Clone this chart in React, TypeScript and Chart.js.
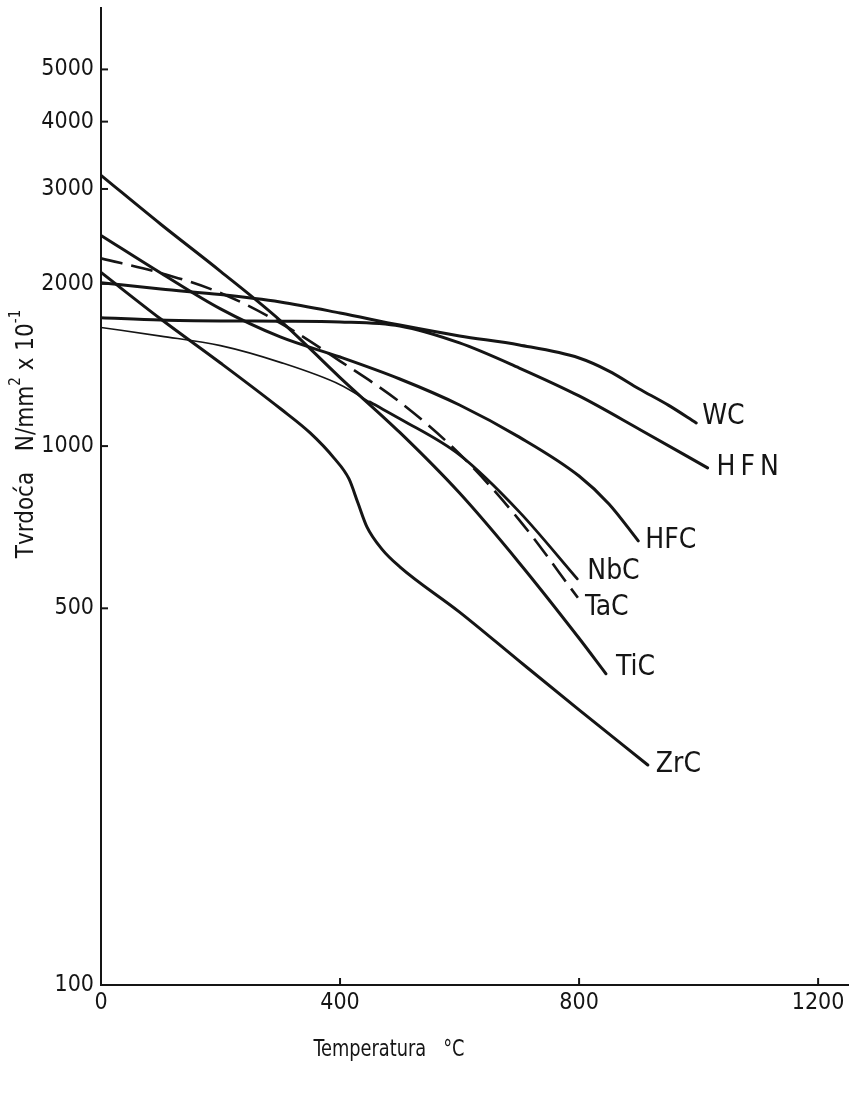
import React, { useEffect, useRef } from 'react';
import { Chart, registerables } from 'chart.js';

Chart.register(...registerables);

// ---- data (temperature °C, hardness N/mm² x 10^-1) ----
const wcTemps = [0, 100, 200, 300, 400, 500, 600, 700, 800, 850, 900, 950, 996];
const wcHard = [2010, 1956, 1911, 1851, 1766, 1677, 1601, 1540, 1457, 1378, 1278, 1190, 1104];

const hfnTemps = [0, 100, 200, 300, 400, 500, 600, 700, 800, 900, 1015];
const hfnHard = [1730, 1714, 1707, 1705, 1700, 1671, 1554, 1396, 1239, 1076, 911];

const hfcTemps = [0, 100, 200, 300, 400, 500, 600, 700, 800, 850, 899];
const hfcHard = [2460, 2095, 1797, 1594, 1463, 1332, 1192, 1039, 880, 781, 667];

const nbcTemps = [0, 100, 200, 300, 400, 450, 500, 600, 700, 797];
const nbcHard = [1660, 1600, 1536, 1430, 1300, 1207, 1124, 963, 755, 567];

const tacTemps = [0, 100, 200, 300, 400, 500, 600, 700, 798];
const tacHard = [2230, 2095, 1924, 1692, 1438, 1207, 967, 729, 523];

const ticTemps = [0, 100, 200, 300, 400, 500, 600, 700, 800, 845];
const ticHard = [3180, 2580, 2110, 1710, 1340, 1060, 818, 607, 440, 378];

const zrcTemps = [0, 100, 200, 300, 350, 390, 415, 430, 445, 470, 500, 600, 700, 800, 915];
const zrcHard = [2100, 1721, 1426, 1174, 1058, 950, 869, 784, 708, 644, 597, 492, 399, 324, 256];

const seriesNames = ['WC', 'HFN', 'HFC', 'NbC', 'TaC', 'TiC', 'ZrC'];
const yTickValues = [100, 500, 1000, 2000, 3000, 4000, 5000];
const xTickValues = [0, 400, 800, 1200];
const xTitle = 'Temperatura   °C';
const yTitleParts = [
  { t: 'Tvrdoća   N/mm', sup: false },
  { t: '2', sup: true },
  { t: ' x 10', sup: false },
  { t: '-1', sup: true },
];

const FONT = "'Liberation Sans Narrow', 'DejaVu Sans Condensed', 'Roboto Condensed', 'Liberation Sans', sans-serif";
const INK = '#151515';

const labelOffsets: Record<string, [number, number]> = {
  WC: [6, -6],
  HFN: [9, 0],
  HFC: [7, 0],
  NbC: [10, -7],
  TaC: [7, 10],
  TiC: [10, -6],
  ZrC: [8, 0],
};

function pts(t: number[], v: number[]) {
  return t.map((x, i) => ({ x, y: v[i] }));
}

function drawRich(ctx: CanvasRenderingContext2D, parts: { t: string; sup: boolean }[], cx: number, cy: number, size: number) {
  const supSize = Math.round(size * 0.62);
  let total = 0;
  const widths = parts.map((p) => {
    ctx.font = `${p.sup ? supSize : size}px ${FONT}`;
    const w = ctx.measureText(p.t).width;
    total += w;
    return w;
  });
  let x = cx - total / 2;
  ctx.textBaseline = 'middle';
  ctx.textAlign = 'left';
  parts.forEach((p, i) => {
    ctx.font = `${p.sup ? supSize : size}px ${FONT}`;
    ctx.fillText(p.t, x, p.sup ? cy - size * 0.45 : cy);
    x += widths[i];
  });
}

const decorPlugin = {
  id: 'decor',
  afterDraw(chart: any) {
    const ctx: CanvasRenderingContext2D = chart.ctx;
    const area = chart.chartArea;
    const ys = chart.scales.y;
    const xs = chart.scales.x;
    ctx.save();
    ctx.strokeStyle = INK;
    ctx.fillStyle = INK;
    ctx.lineWidth = 2;
    // inward tick marks
    yTickValues.forEach((v) => {
      if (v === yTickValues[0]) return;
      const py = ys.getPixelForValue(v);
      ctx.beginPath();
      ctx.moveTo(area.left, py);
      ctx.lineTo(area.left + 7, py);
      ctx.stroke();
    });
    xTickValues.forEach((v) => {
      if (v === 0) return;
      const px = xs.getPixelForValue(v);
      ctx.beginPath();
      ctx.moveTo(px, area.bottom);
      ctx.lineTo(px, area.bottom - 7);
      ctx.stroke();
    });
    // curve labels
    ctx.font = `28px ${FONT}`;
    ctx.textBaseline = 'middle';
    ctx.textAlign = 'left';
    chart.data.datasets.forEach((ds: any, i: number) => {
      const meta = chart.getDatasetMeta(i);
      const last = meta.data[meta.data.length - 1];
      const off = labelOffsets[ds.label] || [6, 0];
      (ctx as any).letterSpacing = ds.label === 'HFN' ? '5px' : '0px';
      ctx.fillText(ds.label, last.x + off[0], last.y + off[1]);
    });
    (ctx as any).letterSpacing = '0px';
    // x axis title (slightly condensed)
    ctx.save();
    ctx.font = `23px ${FONT}`;
    ctx.textAlign = 'center';
    ctx.translate(389, 1050);
    ctx.scale(0.86, 1);
    ctx.fillText(xTitle, 0, 0);
    ctx.restore();
    // y axis title
    ctx.translate(27, 434);
    ctx.rotate(-Math.PI / 2);
    drawRich(ctx, yTitleParts, 0, 0, 24);
    ctx.restore();
  },
};

export default function App() {
  const ref = useRef<HTMLCanvasElement>(null);
  useEffect(() => {
    document.body.style.margin = '0';
    const series = [
      pts(wcTemps, wcHard),
      pts(hfnTemps, hfnHard),
      pts(hfcTemps, hfcHard),
      pts(nbcTemps, nbcHard),
      pts(tacTemps, tacHard),
      pts(ticTemps, ticHard),
      pts(zrcTemps, zrcHard),
    ];
    const datasets = series.map((data, i) => {
      const name = seriesNames[i];
      const ds: any = {
        label: name,
        data,
        borderColor: INK,
        borderWidth: 3,
        pointRadius: 0,
        fill: false,
        cubicInterpolationMode: 'monotone',
        borderCapStyle: 'round',
        borderJoinStyle: 'round',
      };
      if (name === 'TaC') {
        ds.borderDash = [22, 9];
        ds.borderCapStyle = 'butt';
        ds.borderWidth = 2.6;
      }
      if (name === 'NbC') {
        ds.segment = {
          borderWidth: (c: any) => (c.p0.parsed.x < 420 ? 1.6 : 2.8),
        };
      }
      return ds;
    });
    const chart = new Chart(ref.current as HTMLCanvasElement, {
      type: 'line',
      data: { datasets },
      options: {
        animation: false,
        responsive: false,
        events: [],
        layout: { padding: { top: 8, right: 3, left: 0, bottom: 0 } },
        plugins: { legend: { display: false }, tooltip: { enabled: false } },
        scales: {
          x: {
            type: 'linear',
            min: 0,
            max: 1250,
            afterBuildTicks: (s: any) => {
              s.ticks = xTickValues.map((v) => ({ value: v }));
            },
            afterFit: (s: any) => {
              s.height = 108;
              s.paddingLeft = 0;
              s.paddingRight = 0;
            },
            ticks: {
              color: INK,
              font: { family: FONT, size: 23 },
              padding: 4,
              maxRotation: 0,
              autoSkip: false,
              callback: (v: any) => String(v),
            },
            grid: { display: true, drawOnChartArea: false, drawTicks: false },
            border: { color: INK, width: 2 },
          },
          y: {
            type: 'logarithmic',
            min: 100,
            max: 6500,
            afterBuildTicks: (s: any) => {
              s.ticks = yTickValues.map((v) => ({ value: v }));
            },
            afterFit: (s: any) => {
              s.width = 101;
              s.paddingTop = 0;
              s.paddingBottom = 0;
            },
            ticks: {
              color: INK,
              font: { family: FONT, size: 23 },
              padding: 7,
              autoSkip: false,
              callback: (v: any) => String(v),
            },
            grid: { display: true, drawOnChartArea: false, drawTicks: false },
            border: { color: INK, width: 2 },
          },
        },
      },
      plugins: [decorPlugin],
    } as any);
    return () => chart.destroy();
  }, []);
  return <canvas ref={ref} width={851} height={1093} style={{ display: 'block' }} />;
}
